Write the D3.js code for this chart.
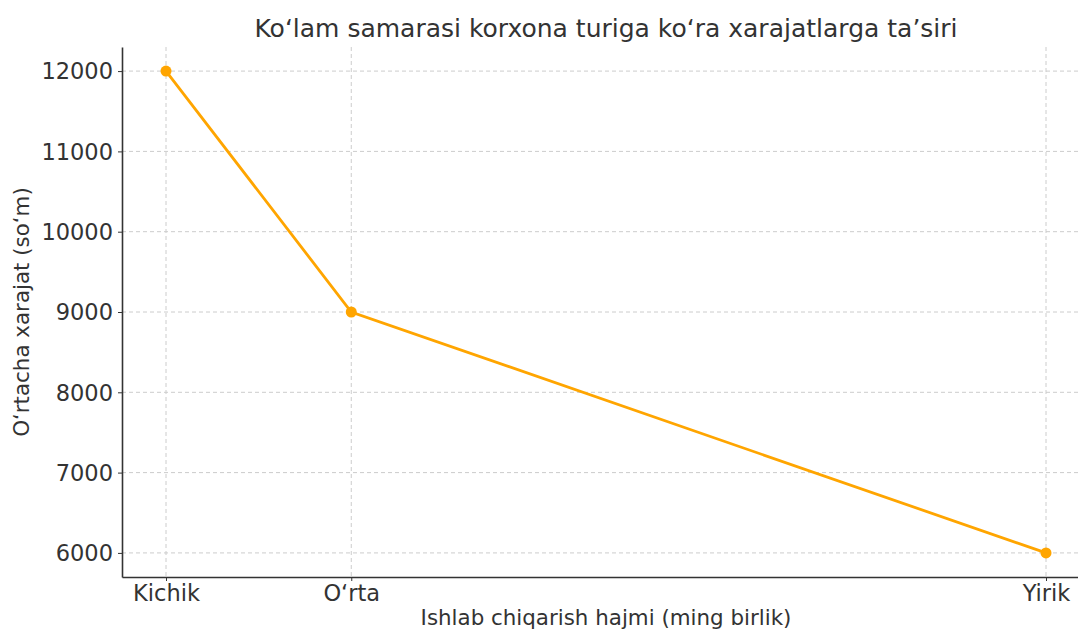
<!DOCTYPE html>
<html>
<head>
<meta charset="utf-8">
<script src="https://cdn.jsdelivr.net/npm/d3@7"></script>
<style>
  body { margin: 0; background: #fff; }
  svg text { font-family: "DejaVu Sans", sans-serif; fill: #333; }
  .grid line { stroke: #cccccc; stroke-dasharray: 4,3; stroke-width: 1; }
  .axis path, .axis line { stroke: #333; }
</style>
</head>
<body>
<svg id="chart" width="1078" height="630"></svg>
<script>
// Data
var sizes = ["Kichik", "O\u2018rta", "Yirik"];
var volume = [1, 5, 20];            // ming birlik (position on x axis)
var avgCost = [12000, 9000, 6000];  // so'm
var yTicks = [6000, 7000, 8000, 9000, 10000, 11000, 12000];

var svg = d3.select("#chart");
var plotLeft = 122, plotRight = 1090, plotTop = 47, plotBottom = 577;

// matplotlib-like 5% margins
var xPad = (d3.max(volume) - d3.min(volume)) * 0.05;
var yPad = (d3.max(avgCost) - d3.min(avgCost)) * 0.05;
var x = d3.scaleLinear()
  .domain([d3.min(volume) - xPad, d3.max(volume) + xPad])
  .range([plotLeft, plotRight]);
var y = d3.scaleLinear()
  .domain([d3.min(avgCost) - yPad, d3.max(avgCost) + yPad])
  .range([plotBottom, plotTop]);

// Grid
var grid = svg.append("g").attr("class", "grid");
grid.selectAll(".gy").data(yTicks).enter().append("line")
  .attr("x1", plotLeft).attr("x2", plotRight)
  .attr("y1", function(d) { return y(d); })
  .attr("y2", function(d) { return y(d); });
grid.selectAll(".gx").data(volume).enter().append("line")
  .attr("y1", plotTop).attr("y2", plotBottom)
  .attr("x1", function(d) { return x(d); })
  .attr("x2", function(d) { return x(d); });

// Axes
var xAxis = svg.append("g").attr("class", "axis")
  .attr("transform", "translate(0," + plotBottom + ")")
  .call(d3.axisBottom(x).tickValues(volume)
    .tickFormat(function(d, i) { return sizes[i]; })
    .tickSize(4).tickPadding(4).tickSizeOuter(0));
var yAxis = svg.append("g").attr("class", "axis")
  .attr("transform", "translate(" + plotLeft + ",0)")
  .call(d3.axisLeft(y).tickValues(yTicks).tickFormat(d3.format("d"))
    .tickSize(4).tickPadding(5).tickSizeOuter(0));
svg.selectAll(".axis .domain").attr("stroke-width", 1.6);
svg.selectAll(".axis text").style("font-size", "22.5px").attr("fill", "#333");
yAxis.selectAll("text").attr("dy", "0.35em");

// Line + markers
var line = d3.line()
  .x(function(d, i) { return x(volume[i]); })
  .y(function(d) { return y(d); });
svg.append("path")
  .datum(avgCost)
  .attr("d", line)
  .attr("fill", "none")
  .attr("stroke", "#FFA500")
  .attr("stroke-width", 2.8);
svg.selectAll(".dot").data(avgCost).enter().append("circle")
  .attr("cx", function(d, i) { return x(volume[i]); })
  .attr("cy", function(d) { return y(d); })
  .attr("r", 5.5)
  .attr("fill", "#FFA500");

// Texts
svg.append("text")
  .attr("x", (plotLeft + plotRight) / 2).attr("y", 37)
  .attr("text-anchor", "middle")
  .style("font-size", "25px")
  .text("Ko\u2018lam samarasi korxona turiga ko\u2018ra xarajatlarga ta\u2019siri");
svg.append("text")
  .attr("x", (plotLeft + plotRight) / 2).attr("y", 625)
  .attr("text-anchor", "middle")
  .style("font-size", "21.4px")
  .text("Ishlab chiqarish hajmi (ming birlik)");
svg.append("text")
  .attr("transform", "translate(29," + (plotTop + plotBottom) / 2 + ") rotate(-90)")
  .attr("text-anchor", "middle")
  .style("font-size", "21.4px")
  .text("O\u2018rtacha xarajat (so\u2018m)");
</script>
</body>
</html>
